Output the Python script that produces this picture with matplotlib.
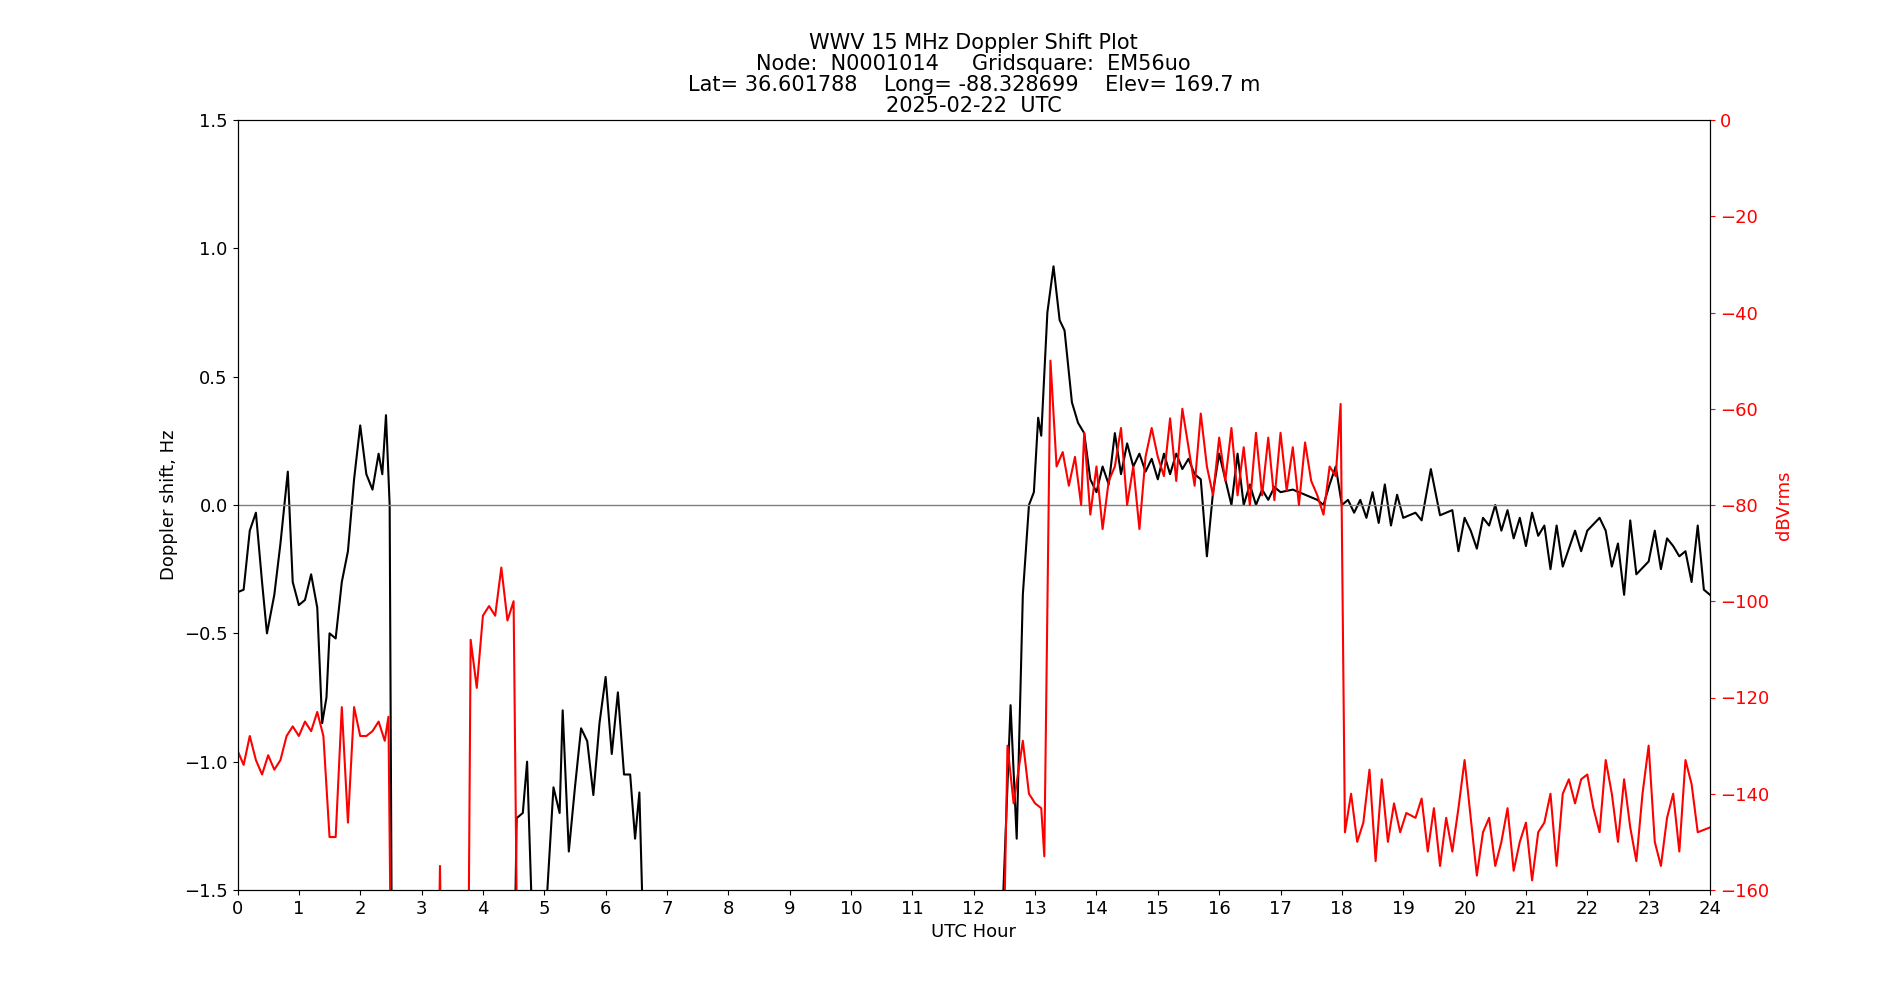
import matplotlib
matplotlib.use("Agg")
import matplotlib.pyplot as plt

dop_t = [0,0.1,0.2,0.3,0.4,0.48,0.6,0.7,0.82,0.9,1.0,1.1,1.2,1.3,1.38,1.45,1.5,1.6,1.7,1.8,1.9,2.0,2.1,2.2,2.3,2.36,2.42,2.48,2.52,4.5,4.55,4.65,4.72,4.8,4.95,5.05,5.15,5.25,5.3,5.4,5.5,5.6,5.7,5.8,5.9,6.0,6.1,6.2,6.3,6.4,6.48,6.55,6.65,12.4,12.5,12.6,12.7,12.8,12.9,12.98,13.05,13.1,13.2,13.3,13.4,13.48,13.6,13.7,13.8,13.9,14.0,14.1,14.2,14.3,14.4,14.5,14.6,14.7,14.8,14.9,15.0,15.1,15.2,15.3,15.4,15.5,15.6,15.7,15.8,15.9,16.0,16.1,16.2,16.3,16.4,16.5,16.6,16.7,16.8,16.9,17.0,17.2,17.4,17.6,17.7,17.8,17.9,18.0,18.1,18.2,18.3,18.4,18.5,18.6,18.7,18.8,18.9,19.0,19.2,19.3,19.45,19.6,19.8,19.9,20.0,20.1,20.2,20.3,20.4,20.5,20.6,20.7,20.8,20.9,21.0,21.1,21.2,21.3,21.4,21.5,21.6,21.8,21.9,22.0,22.2,22.3,22.4,22.5,22.6,22.7,22.8,23.0,23.1,23.2,23.3,23.4,23.5,23.6,23.7,23.8,23.9,24]
dop_v = [-0.34,-0.33,-0.1,-0.03,-0.3,-0.5,-0.35,-0.15,0.13,-0.3,-0.39,-0.37,-0.27,-0.4,-0.85,-0.75,-0.5,-0.52,-0.3,-0.18,0.1,0.31,0.12,0.06,0.2,0.12,0.35,0.0,-2,-2,-1.22,-1.2,-1.0,-1.6,-2,-1.5,-1.1,-1.2,-0.8,-1.35,-1.1,-0.87,-0.92,-1.13,-0.85,-0.67,-0.97,-0.73,-1.05,-1.05,-1.3,-1.12,-2,-2,-1.4,-0.78,-1.3,-0.35,0.0,0.05,0.34,0.27,0.75,0.93,0.72,0.68,0.4,0.32,0.28,0.1,0.05,0.15,0.08,0.28,0.12,0.24,0.15,0.2,0.13,0.18,0.1,0.2,0.12,0.2,0.14,0.18,0.12,0.1,-0.2,0.05,0.2,0.1,0.0,0.2,0.0,0.08,0.0,0.06,0.02,0.07,0.05,0.06,0.04,0.02,0.0,0.08,0.15,0.0,0.02,-0.03,0.02,-0.05,0.05,-0.07,0.08,-0.08,0.04,-0.05,-0.03,-0.06,0.14,-0.04,-0.02,-0.18,-0.05,-0.1,-0.17,-0.05,-0.08,0.0,-0.1,-0.02,-0.13,-0.05,-0.16,-0.03,-0.12,-0.08,-0.25,-0.08,-0.24,-0.1,-0.18,-0.1,-0.05,-0.1,-0.24,-0.15,-0.35,-0.06,-0.27,-0.22,-0.1,-0.25,-0.13,-0.16,-0.2,-0.18,-0.3,-0.08,-0.33,-0.35]

db_t = [0,0.1,0.2,0.3,0.4,0.5,0.6,0.7,0.8,0.9,1.0,1.1,1.2,1.3,1.4,1.5,1.6,1.7,1.8,1.9,2.0,2.1,2.2,2.3,2.4,2.46,2.52,3.25,3.3,3.35,3.75,3.8,3.9,4.0,4.1,4.2,4.3,4.4,4.5,4.58,12.45,12.55,12.65,12.8,12.9,13.0,13.1,13.15,13.25,13.35,13.45,13.55,13.65,13.75,13.8,13.9,14.0,14.1,14.2,14.3,14.4,14.5,14.6,14.7,14.8,14.9,15.0,15.1,15.2,15.3,15.4,15.5,15.6,15.7,15.8,15.9,16.0,16.1,16.2,16.3,16.4,16.5,16.6,16.7,16.8,16.9,17.0,17.1,17.2,17.3,17.4,17.5,17.6,17.7,17.8,17.9,17.98,18.05,18.15,18.25,18.35,18.45,18.55,18.65,18.75,18.85,18.95,19.05,19.2,19.3,19.4,19.5,19.6,19.7,19.8,19.9,20.0,20.1,20.2,20.3,20.4,20.5,20.6,20.7,20.8,20.9,21.0,21.1,21.2,21.3,21.4,21.5,21.6,21.7,21.8,21.9,22.0,22.1,22.2,22.3,22.4,22.5,22.6,22.7,22.8,22.9,23.0,23.1,23.2,23.3,23.4,23.5,23.6,23.7,23.8,24]
db_v = [-131,-134,-128,-133,-136,-132,-135,-133,-128,-126,-128,-125,-127,-123,-128,-149,-149,-122,-146,-122,-128,-128,-127,-125,-129,-124,-200,-200,-155,-200,-200,-108,-118,-103,-101,-103,-93,-104,-100,-200,-200,-130,-142,-129,-140,-142,-143,-153,-50,-72,-69,-76,-70,-80,-65,-82,-72,-85,-75,-72,-64,-80,-72,-85,-70,-64,-70,-74,-62,-75,-60,-68,-76,-61,-72,-78,-66,-75,-64,-78,-68,-80,-65,-78,-66,-79,-65,-77,-68,-80,-67,-75,-78,-82,-72,-74,-59,-148,-140,-150,-146,-135,-154,-137,-150,-142,-148,-144,-145,-141,-152,-143,-155,-145,-152,-143,-133,-145,-157,-148,-145,-155,-150,-143,-156,-150,-146,-158,-148,-146,-140,-155,-140,-137,-142,-137,-136,-143,-148,-133,-140,-150,-137,-147,-154,-140,-130,-150,-155,-145,-140,-152,-133,-138,-148,-147]

fig = plt.figure(figsize=(19, 10), dpi=100)
ax = fig.add_axes([0.125, 0.11, 0.775, 0.77])
ax.plot(dop_t, dop_v, color='black', lw=1.5)
ax.axhline(0, color='gray', lw=1)
ax.set_xlim(0, 24)
ax.set_ylim(-1.5, 1.5)
ax.set_xticks(range(25))
ax.set_xlabel('UTC Hour', fontsize=13)
ax.set_ylabel('Doppler shift, Hz', fontsize=13)
ax.tick_params(labelsize=13)
ax2 = ax.twinx()
ax2.plot(db_t, db_v, color='red', lw=1.5)
ax2.set_ylim(-160, 0)
ax2.set_ylabel('dBVrms', color='red', fontsize=13)
ax2.tick_params(axis='y', colors='red', labelsize=13)
ax.set_title('WWV 15 MHz Doppler Shift Plot\nNode:  N0001014     Gridsquare:  EM56uo\n'
             'Lat= 36.601788    Long= -88.328699    Elev= 169.7 m\n2025-02-22  UTC',
             fontsize=15, linespacing=1.05)
fig.savefig('out.png')
